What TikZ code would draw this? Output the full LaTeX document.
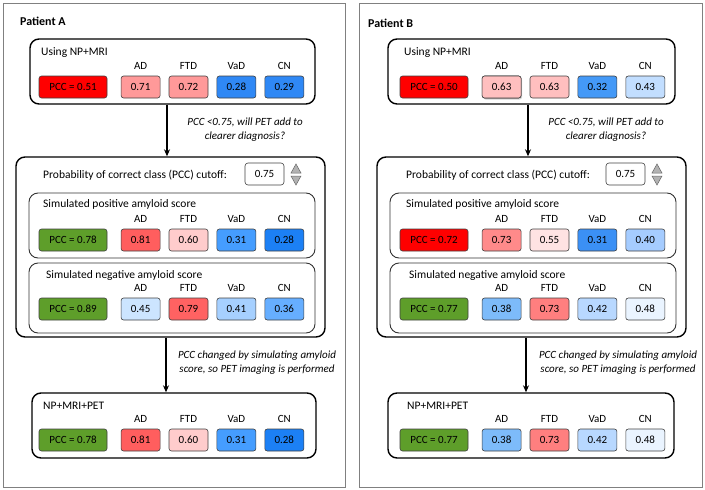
\documentclass[tikz,border=0pt]{standalone}
\usepackage{fontspec}
\setmainfont{Carlito}
\usetikzlibrary{arrows.meta,shadows}
\definecolor{cred}{HTML}{FF0000}
\definecolor{cgreen}{HTML}{5E9E2A}
\definecolor{pAa}{HTML}{FF9999}
\definecolor{bAa}{HTML}{2F88F5}
\definecolor{rAb}{HTML}{FF5E5E}
\definecolor{pAb}{HTML}{FFCCCC}
\definecolor{bAb}{HTML}{459DFF}
\definecolor{bAc}{HTML}{1C80F5}
\definecolor{bAd}{HTML}{CCE5FF}
\definecolor{rAd}{HTML}{FF6262}
\definecolor{bAe}{HTML}{A6D0FF}
\definecolor{bAf}{HTML}{66AEFF}
\definecolor{pBa}{HTML}{FFBFBF}
\definecolor{bBa}{HTML}{4499F7}
\definecolor{bBb}{HTML}{C2DEFF}
\definecolor{rBb}{HTML}{FF8A8A}
\definecolor{pBb}{HTML}{FFE3E3}
\definecolor{bBc}{HTML}{3B90F5}
\definecolor{bBd}{HTML}{A5CCFF}
\definecolor{bBe}{HTML}{7DBBFA}
\definecolor{rBe}{HTML}{FF7F7F}
\definecolor{bBf}{HTML}{B8D8FF}
\definecolor{bBg}{HTML}{EAF4FF}
\tikzset{
  txt/.style={font=\fontsize{11}{13}\selectfont, inner sep=0pt},
  lbl/.style={font=\fontsize{11.5}{14}\selectfont, inner sep=0pt, anchor=west},
  hdr/.style={txt},
  cell/.style={txt, draw=black!75, line width=0.6pt, rounded corners=2.5pt,
    minimum width=39pt, minimum height=22pt},
  pcccell/.style={cell, minimum width=68pt},
  mainbox/.style={draw=black, line width=1.4pt, rounded corners=9pt, inner sep=0pt},
  simbox/.style={draw=black!80, line width=0.9pt, rounded corners=9pt, inner sep=0pt},
  frame/.style={draw=black!50, line width=0.8pt},
  flow/.style={draw=black, line width=1.3pt, -{Stealth[length=7pt,width=6pt]}},
  note/.style={txt, font=\fontsize{11}{13.5}\selectfont\itshape, align=center},
  tri/.style={fill=black!30, draw=black!60, line width=0.5pt},
  title/.style={font=\fontsize{12}{14}\selectfont\bfseries, inner sep=0pt, anchor=west}
}
\newcommand\hdrrow[2]{%
  \node[hdr] (#1-hAD) at (140.6,#2) {AD};
  \node[hdr] (#1-hFTD) at (188.5,#2) {FTD};
  \node[hdr] (#1-hVaD) at (236.4,#2) {VaD};
  \node[hdr] (#1-hCN) at (284.3,#2) {CN};
}
\newcommand\cellrow[5]{%
  \node[pcccell, fill=#3] (#1-pcc) at (73,#2) {PCC = #4};
  \foreach \cc/\vv [count=\i] in {#5}
    \node[cell, fill=\cc] (#1-c\i) at ({92.7+47.9*\i},#2) {\vv};
}
\begin{document}
\begin{tikzpicture}[x=1pt,y=-1pt]
\useasboundingbox (0,0) rectangle (705,490);
% outer frames
\draw[frame] (3,3) rectangle (345,487);
\draw[frame] (359,3) rectangle (702,487);
\node[title] (A-title) at (20,21) {Patient A};
\node[title] (B-title) at (368,23) {Patient B};

% ---------- Patient A ----------
\node[mainbox, minimum width=285pt, minimum height=65pt] (A-box1) at (172.5,71.5) {};
\node[lbl] (A-l1) at (41,53) {Using NP+MRI};
\hdrrow{A1}{66}
\cellrow{A1}{87}{cred}{0.51}{pAa/0.71,pAa/0.72,bAa/0.28,bAa/0.29}

\node[mainbox, minimum width=309pt, minimum height=180pt] (A-box2) at (170.5,247) {};
\node[lbl] (A-cut) at (43,175) {Probability of correct class (PCC) cutoff:};
\node[txt, draw=black!75, line width=0.6pt, rounded corners=3pt, minimum width=39pt, minimum height=22pt] (A-cutv) at (264.5,174) {0.75};
\fill[tri] (291,173) -- (301,173) -- (296,164) -- cycle;
\fill[tri] (291,176) -- (301,176) -- (296,185) -- cycle;
\node[simbox, minimum width=286pt, minimum height=65pt] (A-pos) at (172,225.5) {};
\node[lbl] (A-lpos) at (43,204) {Simulated positive amyloid score};
\hdrrow{A2}{219}
\cellrow{A2}{240}{cgreen}{0.78}{rAb/0.81,pAb/0.60,bAb/0.31,bAc/0.28}
\node[simbox, minimum width=286pt, minimum height=70pt] (A-neg) at (172,298) {};
\node[lbl] (A-lneg) at (46,275) {Simulated negative amyloid score};
\hdrrow{A3}{288}
\cellrow{A3}{309}{cgreen}{0.89}{bAd/0.45,rAd/0.79,bAe/0.41,bAf/0.36}

\node[mainbox, minimum width=284pt, minimum height=65pt] (A-box3) at (174,425.5) {};
\node[lbl] (A-l3) at (43,406) {NP+MRI+PET};
\hdrrow{A4}{419}
\cellrow{A4}{440}{cgreen}{0.78}{rAb/0.81,pAb/0.60,bAb/0.31,bAc/0.28}

\draw[flow] ([xshift=-5.5pt]A-box1.south) -- ([xshift=-3.5pt]A-box2.north);
\node[note] (A-n1) at (245,129.5) {PCC <0.75, will PET add to\\clearer diagnosis?};
\draw[flow] ([xshift=-4.5pt]A-box2.south) -- ([xshift=-8pt]A-box3.north);
\node[note] (A-n2) at (257,362.5) {PCC changed by simulating amyloid\\score, so PET imaging is performed};

% ---------- Patient B ----------
\begin{scope}[xshift=361pt]
\node[mainbox, minimum width=287pt, minimum height=65pt] (B-box1) at (170.5,71.5) {};
\node[lbl] (B-l1) at (43,53) {Using NP+MRI};
\hdrrow{B1}{66}
\node[cell, fill=pBa, drop shadow={shadow xshift=1pt, shadow yshift=-1.5pt, opacity=0.35}] (B1-sh) at (140.6,87) {0.63};
\cellrow{B1}{87}{cred}{0.50}{pBa/0.63,pBa/0.63,bBa/0.32,bBb/0.43}

\node[mainbox, minimum width=309pt, minimum height=180pt] (B-box2) at (170.5,247) {};
\node[lbl] (B-cut) at (45,175) {Probability of correct class (PCC) cutoff:};
\node[txt, draw=black!75, line width=0.6pt, rounded corners=3pt, minimum width=39pt, minimum height=22pt] (B-cutv) at (264.5,174) {0.75};
\fill[tri] (291,173) -- (301,173) -- (296,164) -- cycle;
\fill[tri] (291,176) -- (301,176) -- (296,185) -- cycle;
\node[simbox, minimum width=286pt, minimum height=65pt] (B-pos) at (172,225.5) {};
\node[lbl] (B-lpos) at (45,204) {Simulated positive amyloid score};
\hdrrow{B2}{219}
\cellrow{B2}{240}{cred}{0.72}{rBb/0.73,pBb/0.55,bBc/0.31,bBd/0.40}
\node[simbox, minimum width=286pt, minimum height=70pt] (B-neg) at (172,298) {};
\node[lbl] (B-lneg) at (48,275) {Simulated negative amyloid score};
\hdrrow{B3}{288}
\cellrow{B3}{309}{cgreen}{0.77}{bBe/0.38,rBe/0.73,bBf/0.42,bBg/0.48}

\node[mainbox, minimum width=286pt, minimum height=65pt] (B-box3) at (170,425.5) {};
\node[lbl] (B-l3) at (46,406) {NP+MRI+PET};
\hdrrow{B4}{419}
\cellrow{B4}{440}{cgreen}{0.77}{bBe/0.38,rBe/0.73,bBf/0.42,bBg/0.48}

\draw[flow] ([xshift=-3.5pt]B-box1.south) -- ([xshift=-3.5pt]B-box2.north);
\node[note] (B-n1) at (245,129.5) {PCC <0.75, will PET add to\\clearer diagnosis?};
\draw[flow] ([xshift=-5.5pt]B-box2.south) -- ([xshift=-5pt]B-box3.north);
\node[note] (B-n2) at (257,362.5) {PCC changed by simulating amyloid\\score, so PET imaging is performed};
\end{scope}
\end{tikzpicture}
\end{document}
